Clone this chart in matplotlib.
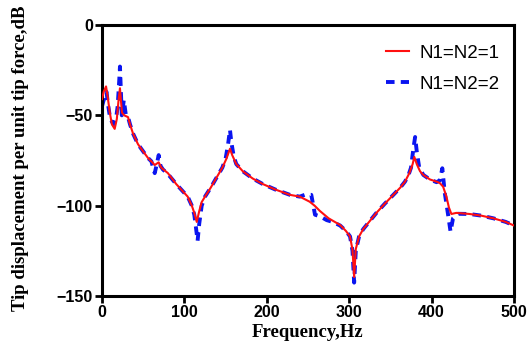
import matplotlib
matplotlib.use("Agg")
import matplotlib.pyplot as plt
from matplotlib.lines import Line2D

# Series N1=N2=1 (red, solid)
freq_1 = [0, 2, 4.9, 7, 9.3, 12, 15.4, 18, 20, 21.8, 23, 24.3, 27, 31.6, 34, 37.6,
          43.7, 50, 55.8, 60, 64, 68.8, 72, 80, 90, 98, 104, 109, 112, 115, 118,
          121, 125, 132, 139.6, 146, 151, 155.3, 158, 163, 171, 183, 195, 210,
          228, 240, 252, 258, 264.6, 275, 289, 296, 301, 304, 306, 308, 312, 317,
          325, 333, 343, 353.6, 362, 367.7, 373, 377, 379, 382, 386, 390, 398,
          406, 410, 414, 418, 421, 424, 430, 446, 460, 475, 490, 500]
db_1 = [-41, -37, -34, -40, -48, -55, -57.5, -52, -42, -35, -42, -48.5, -50, -51,
        -55, -60, -66, -70, -73.6, -75.5, -77.5, -76, -79, -82, -88, -92, -95,
        -100, -104, -109, -103, -98, -95, -90, -84, -79, -74, -68.5, -72, -77,
        -81, -85, -88, -91, -94, -95, -97.8, -100, -103, -107, -110.7, -114,
        -117, -124.5, -139.5, -124, -117, -113, -108.5, -104, -99, -94, -90,
        -86.7, -82, -77, -73, -77, -81, -83, -85.5, -86.7, -87.5, -89.5, -95,
        -101, -104.6, -104, -104.6, -105.5, -107, -109, -111]

# Series N1=N2=2 (blue, dashed)
freq_2 = [0, 3, 5.5, 7, 10, 14, 17, 19, 21, 21.8, 22.8, 24, 26.5, 29, 31.6, 34,
          37.6, 43.7, 50, 55.8, 60, 62, 64, 66, 68.8, 71, 74, 80, 90, 98, 104,
          109, 112, 114, 116, 118, 121, 125, 132, 139.6, 146, 150, 153, 155.3,
          157, 160, 163, 171, 183, 195, 210, 228, 240, 246, 254, 258.5, 265,
          272.7, 280, 289, 296, 301, 304, 306, 308, 312, 317, 325, 333, 343,
          353.6, 362, 367.7, 372, 375, 378, 380, 382, 385, 390, 398, 406, 410,
          413, 416, 420, 423, 426, 432, 446, 460, 475, 490, 500]
db_2 = [-45, -40, -37, -43, -52, -55, -52, -45, -30, -23, -35, -50, -41.5, -50,
        -51, -55, -60, -66, -70, -73.6, -75.5, -79, -82, -78, -72, -78, -80,
        -82.5, -88, -92, -95, -100, -105, -112, -119.5, -110, -100, -95, -90,
        -84, -79, -74, -66, -58, -65, -73, -77, -81, -85, -88, -91, -94, -95,
        -94, -94, -105, -106, -108, -109, -111, -114, -117, -125, -142.6, -125,
        -117, -113, -108.5, -104, -99, -94, -90, -86.7, -83, -79, -68, -62,
        -70, -79, -83, -85.5, -87, -86, -79.3, -93, -105, -114.4, -107, -104.5,
        -104.6, -105.5, -107, -109, -111]

labels = ["N1=N2=1", "N1=N2=2"]
x_ticks = [0, 100, 200, 300, 400, 500]
y_ticks = [-150, -100, -50, 0]

fig = plt.figure(figsize=(5.29, 3.5), dpi=100)
ax = fig.add_axes([102 / 529, 1 - 296 / 350, (514 - 102) / 529, (296 - 25) / 350])

ax.plot(freq_2, db_2, color="#0a14f0", lw=2.8, ls=(0, (2.2, 1.6)), zorder=2,
        solid_capstyle="butt", dash_capstyle="butt")
ax.plot(freq_1, db_1, color="#ff1010", lw=1.5, zorder=3)

ax.set_xlim(0, 500)
ax.set_ylim(-150, 0)
ax.set_xticks(x_ticks)
ax.set_yticks(y_ticks)

for sp in ax.spines.values():
    sp.set_linewidth(2.2)
    sp.set_color("black")

ax.tick_params(axis="both", direction="out", length=5, width=2, color="black",
               pad=1.5)
for lab in ax.get_xticklabels() + ax.get_yticklabels():
    lab.set_fontfamily("Liberation Sans")
    lab.set_fontweight("bold")
    lab.set_fontsize(11.5)

ax.set_xlabel("Frequency,Hz", fontfamily="Liberation Serif", fontweight="bold",
              fontsize=13.5)
ax.set_ylabel("Tip displacement per unit tip force,dB", fontfamily="Liberation Serif",
              fontweight="bold", fontsize=13.5)
ax.xaxis.set_label_coords(0.5, (296 - 324) / 271)
ax.yaxis.set_label_coords((29 - 102) / 412, 0.51)

handles = [Line2D([], [], color="#ff1010", lw=1.5),
           Line2D([], [], color="#0a14f0", lw=2.8, ls=(0, (2.2, 1.6)))]
leg = ax.legend(handles, labels, loc="upper right", frameon=False,
                prop={"family": "Liberation Sans", "size": 13.5},
                handlelength=1.2, handletextpad=0.6, labelspacing=0.75,
                borderaxespad=0.35, bbox_to_anchor=(1.0, 0.98))

fig.savefig("out.png", dpi=100)
